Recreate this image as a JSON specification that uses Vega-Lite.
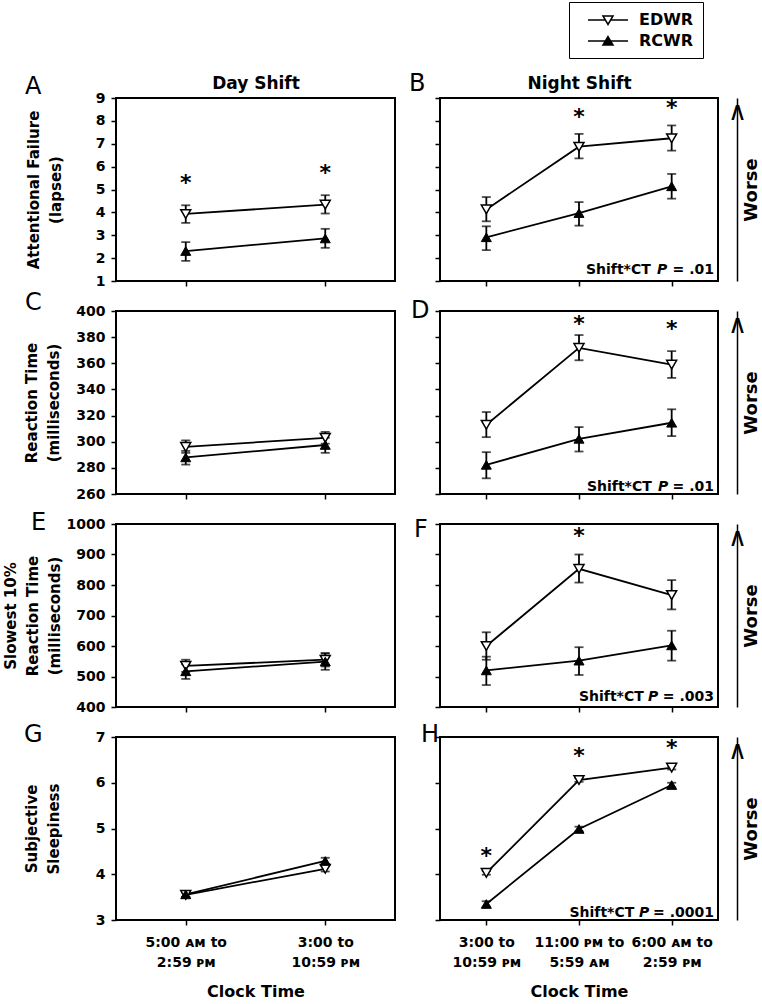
{
  "$schema": "https://vega.github.io/schema/vega-lite/v6.json",
  "background": "white",
  "padding": {"left": 2, "top": 1, "right": 0, "bottom": 0},
  "bounds": "flush",
  "columns": 2,
  "spacing": {"row": 30, "column": 45},
  "resolve": {"scale": {"shape": "shared", "fill": "shared"}, "legend": {"shape": "shared", "fill": "shared"}},
  "config": {
    "font": "DejaVu Sans",
    "view": {"stroke": "black", "strokeWidth": 2},
    "axis": {"grid": false, "domainColor": "black", "tickColor": "black", "tickWidth": 1.5, "tickSize": 5, "labelColor": "black", "titleColor": "black", "labelFont": "DejaVu Sans", "titleFont": "DejaVu Sans", "labelFontWeight": "bold", "titleFontWeight": "bold"},
    "title": {"font": "DejaVu Sans", "fontSize": 24, "fontWeight": "normal", "color": "black", "anchor": "start", "frame": "group", "baseline": "alphabetic"},
    "text": {"color": "black"}
  },
  "datasets": {
    "A": [
      {"ct": "5:00 ᴀᴍ to|2:59 ᴘᴍ", "g": "EDWR", "m": 3.93, "lo": 3.54, "hi": 4.31},
      {"ct": "3:00 to|10:59 ᴘᴍ", "g": "EDWR", "m": 4.34, "lo": 3.95, "hi": 4.75},
      {"ct": "5:00 ᴀᴍ to|2:59 ᴘᴍ", "g": "RCWR", "m": 2.31, "lo": 1.88, "hi": 2.7},
      {"ct": "3:00 to|10:59 ᴘᴍ", "g": "RCWR", "m": 2.86, "lo": 2.45, "hi": 3.28}
    ],
    "Astar": [{"ct": "5:00 ᴀᴍ to|2:59 ᴘᴍ", "s": 5.36}, {"ct": "3:00 to|10:59 ᴘᴍ", "s": 5.8}],
    "B": [
      {"ct": "3:00 to|10:59 ᴘᴍ", "g": "EDWR", "m": 4.13, "lo": 3.61, "hi": 4.67},
      {"ct": "11:00 ᴘᴍ to|5:59 ᴀᴍ", "g": "EDWR", "m": 6.87, "lo": 6.36, "hi": 7.43},
      {"ct": "6:00 ᴀᴍ to|2:59 ᴘᴍ", "g": "EDWR", "m": 7.24, "lo": 6.7, "hi": 7.8},
      {"ct": "3:00 to|10:59 ᴘᴍ", "g": "RCWR", "m": 2.91, "lo": 2.35, "hi": 3.39},
      {"ct": "11:00 ᴘᴍ to|5:59 ᴀᴍ", "g": "RCWR", "m": 3.97, "lo": 3.42, "hi": 4.45},
      {"ct": "6:00 ᴀᴍ to|2:59 ᴘᴍ", "g": "RCWR", "m": 5.14, "lo": 4.6, "hi": 5.68}
    ],
    "Bstar": [{"ct": "11:00 ᴘᴍ to|5:59 ᴀᴍ", "s": 8.27}, {"ct": "6:00 ᴀᴍ to|2:59 ᴘᴍ", "s": 8.63}],
    "C": [
      {"ct": "5:00 ᴀᴍ to|2:59 ᴘᴍ", "g": "EDWR", "m": 296, "lo": 291.5, "hi": 301},
      {"ct": "3:00 to|10:59 ᴘᴍ", "g": "EDWR", "m": 303, "lo": 298.5, "hi": 307.5},
      {"ct": "5:00 ᴀᴍ to|2:59 ᴘᴍ", "g": "RCWR", "m": 288, "lo": 282.5, "hi": 293},
      {"ct": "3:00 to|10:59 ᴘᴍ", "g": "RCWR", "m": 297.5, "lo": 291.5, "hi": 303}
    ],
    "D": [
      {"ct": "3:00 to|10:59 ᴘᴍ", "g": "EDWR", "m": 313, "lo": 303.5, "hi": 322.7},
      {"ct": "11:00 ᴘᴍ to|5:59 ᴀᴍ", "g": "EDWR", "m": 371.8, "lo": 362.3, "hi": 381.6},
      {"ct": "6:00 ᴀᴍ to|2:59 ᴘᴍ", "g": "EDWR", "m": 359, "lo": 348.8, "hi": 369.3},
      {"ct": "3:00 to|10:59 ᴘᴍ", "g": "RCWR", "m": 282.3, "lo": 272, "hi": 292},
      {"ct": "11:00 ᴘᴍ to|5:59 ᴀᴍ", "g": "RCWR", "m": 302.2, "lo": 292.5, "hi": 311.2},
      {"ct": "6:00 ᴀᴍ to|2:59 ᴘᴍ", "g": "RCWR", "m": 314.5, "lo": 304.3, "hi": 324.8}
    ],
    "Dstar": [{"ct": "11:00 ᴘᴍ to|5:59 ᴀᴍ", "s": 391.8}, {"ct": "6:00 ᴀᴍ to|2:59 ᴘᴍ", "s": 388}],
    "E": [
      {"ct": "5:00 ᴀᴍ to|2:59 ᴘᴍ", "g": "EDWR", "m": 535, "lo": 515, "hi": 555},
      {"ct": "3:00 to|10:59 ᴘᴍ", "g": "EDWR", "m": 555, "lo": 533, "hi": 577},
      {"ct": "5:00 ᴀᴍ to|2:59 ᴘᴍ", "g": "RCWR", "m": 517, "lo": 492, "hi": 540},
      {"ct": "3:00 to|10:59 ᴘᴍ", "g": "RCWR", "m": 549, "lo": 522, "hi": 575}
    ],
    "F": [
      {"ct": "3:00 to|10:59 ᴘᴍ", "g": "EDWR", "m": 600, "lo": 555, "hi": 645},
      {"ct": "11:00 ᴘᴍ to|5:59 ᴀᴍ", "g": "EDWR", "m": 853, "lo": 808, "hi": 900},
      {"ct": "6:00 ᴀᴍ to|2:59 ᴘᴍ", "g": "EDWR", "m": 767, "lo": 720, "hi": 816},
      {"ct": "3:00 to|10:59 ᴘᴍ", "g": "RCWR", "m": 520, "lo": 472, "hi": 565},
      {"ct": "11:00 ᴘᴍ to|5:59 ᴀᴍ", "g": "RCWR", "m": 552, "lo": 505, "hi": 596},
      {"ct": "6:00 ᴀᴍ to|2:59 ᴘᴍ", "g": "RCWR", "m": 602, "lo": 552, "hi": 650}
    ],
    "Fstar": [{"ct": "11:00 ᴘᴍ to|5:59 ᴀᴍ", "s": 967}],
    "G": [
      {"ct": "5:00 ᴀᴍ to|2:59 ᴘᴍ", "g": "EDWR", "m": 3.55, "lo": 3.5, "hi": 3.6},
      {"ct": "3:00 to|10:59 ᴘᴍ", "g": "EDWR", "m": 4.12, "lo": 4.06, "hi": 4.18},
      {"ct": "5:00 ᴀᴍ to|2:59 ᴘᴍ", "g": "RCWR", "m": 3.56, "lo": 3.51, "hi": 3.61},
      {"ct": "3:00 to|10:59 ᴘᴍ", "g": "RCWR", "m": 4.29, "lo": 4.22, "hi": 4.36}
    ],
    "H": [
      {"ct": "3:00 to|10:59 ᴘᴍ", "g": "EDWR", "m": 4.03, "lo": 3.99, "hi": 4.07},
      {"ct": "11:00 ᴘᴍ to|5:59 ᴀᴍ", "g": "EDWR", "m": 6.06, "lo": 6.02, "hi": 6.1},
      {"ct": "6:00 ᴀᴍ to|2:59 ᴘᴍ", "g": "EDWR", "m": 6.33, "lo": 6.29, "hi": 6.37},
      {"ct": "3:00 to|10:59 ᴘᴍ", "g": "RCWR", "m": 3.35, "lo": 3.29, "hi": 3.41},
      {"ct": "11:00 ᴘᴍ to|5:59 ᴀᴍ", "g": "RCWR", "m": 4.99, "lo": 4.94, "hi": 5.04},
      {"ct": "6:00 ᴀᴍ to|2:59 ᴘᴍ", "g": "RCWR", "m": 5.95, "lo": 5.9, "hi": 6.0}
    ],
    "Hstar": [{"ct": "3:00 to|10:59 ᴘᴍ", "s": 4.44}, {"ct": "11:00 ᴘᴍ to|5:59 ᴀᴍ", "s": 6.62}, {"ct": "6:00 ᴀᴍ to|2:59 ᴘᴍ", "s": 6.8}]
  },
  "concat": [
    {
      "width": 279, "height": 183,
      "title": {"text": "A", "dx": -91, "offset": -25},
      "data": {"name": "A"},
      "resolve": {"axis": {"x": "independent", "y": "independent"}},
      "layer": [
        {"mark": {"type": "line", "color": "black", "strokeWidth": 1.8},
         "encoding": {
           "x": {"field": "ct", "type": "nominal", "scale": {"type": "point", "domain": ["5:00 ᴀᴍ to|2:59 ᴘᴍ", "3:00 to|10:59 ᴘᴍ"], "padding": 0.5}, "axis": {"title": null, "labels": false, "domain": false, "tickSize": 5}},
           "y": {"field": "m", "type": "quantitative", "scale": {"domain": [1, 9], "nice": false, "zero": false}, "axis": {"title": ["Attentional Failure", "(lapses)"], "values": [1, 2, 3, 4, 5, 6, 7, 8, 9], "format": "d", "domain": false, "labelFontSize": 14, "labelPadding": 6, "titleFontSize": 15, "titleLineHeight": 22, "titleAngle": 270, "titleAlign": "center", "titleBaseline": "bottom", "titleX": -75, "titleY": 91.5}},
           "detail": {"field": "g"},
           "order": {"value": null}
         }},
        {"mark": {"type": "rule", "color": "black", "strokeWidth": 1.8},
         "encoding": {
           "x": {"field": "ct", "type": "nominal", "scale": {"type": "point", "domain": ["5:00 ᴀᴍ to|2:59 ᴘᴍ", "3:00 to|10:59 ᴘᴍ"], "padding": 0.5}, "axis": null},
           "y": {"field": "lo", "type": "quantitative", "scale": {"domain": [1, 9], "nice": false, "zero": false}, "axis": null},
           "y2": {"field": "hi"}
         }},
        {"mark": {"type": "tick", "color": "black", "thickness": 1.8, "size": 9},
         "encoding": {
           "x": {"field": "ct", "type": "nominal", "scale": {"type": "point", "domain": ["5:00 ᴀᴍ to|2:59 ᴘᴍ", "3:00 to|10:59 ᴘᴍ"], "padding": 0.5}, "axis": null},
           "y": {"field": "lo", "type": "quantitative", "scale": {"domain": [1, 9], "nice": false, "zero": false}, "axis": null}
         }},
        {"mark": {"type": "tick", "color": "black", "thickness": 1.8, "size": 9},
         "encoding": {
           "x": {"field": "ct", "type": "nominal", "scale": {"type": "point", "domain": ["5:00 ᴀᴍ to|2:59 ᴘᴍ", "3:00 to|10:59 ᴘᴍ"], "padding": 0.5}, "axis": null},
           "y": {"field": "hi", "type": "quantitative", "scale": {"domain": [1, 9], "nice": false, "zero": false}, "axis": null}
         }},
        {"transform": [{"filter": "datum.g === 'EDWR'"}],
         "mark": {"type": "point", "shape": "triangle-down", "filled": true, "fill": "white", "stroke": "black", "strokeWidth": 1.5, "size": 100, "opacity": 1},
         "encoding": {
           "x": {"field": "ct", "type": "nominal", "scale": {"type": "point", "domain": ["5:00 ᴀᴍ to|2:59 ᴘᴍ", "3:00 to|10:59 ᴘᴍ"], "padding": 0.5}, "axis": null},
           "y": {"field": "m", "type": "quantitative", "scale": {"domain": [1, 9], "nice": false, "zero": false}, "axis": null}
         }},
        {"transform": [{"filter": "datum.g === 'RCWR'"}],
         "mark": {"type": "point", "shape": "triangle-up", "filled": true, "fill": "black", "stroke": "black", "strokeWidth": 1, "size": 100, "opacity": 1},
         "encoding": {
           "x": {"field": "ct", "type": "nominal", "scale": {"type": "point", "domain": ["5:00 ᴀᴍ to|2:59 ᴘᴍ", "3:00 to|10:59 ᴘᴍ"], "padding": 0.5}, "axis": null},
           "y": {"field": "m", "type": "quantitative", "scale": {"domain": [1, 9], "nice": false, "zero": false}, "axis": null}
         }},
        {"data": {"name": "Astar"},
         "mark": {"type": "text", "text": "*", "fontSize": 22, "fontWeight": "bold", "baseline": "middle", "dy": 2, "color": "black"},
         "encoding": {
           "x": {"field": "ct", "type": "nominal", "scale": {"type": "point", "domain": ["5:00 ᴀᴍ to|2:59 ᴘᴍ", "3:00 to|10:59 ᴘᴍ"], "padding": 0.5}, "axis": {"orient": "top", "title": "Day Shift", "labels": false, "ticks": false, "domain": false, "titlePadding": 10, "titleFontSize": 17, "titleBaseline": "alphabetic"}},
           "y": {"field": "s", "type": "quantitative", "scale": {"domain": [1, 9], "nice": false, "zero": false}, "axis": null}
         }}
      ]
    },
    {
      "width": 278, "height": 183,
      "title": {"text": "B", "dx": -31, "offset": -22},
      "data": {"name": "B"},
      "resolve": {"axis": {"x": "independent", "y": "independent"}},
      "layer": [
        {"mark": {"type": "line", "color": "black", "strokeWidth": 1.8},
         "encoding": {
           "x": {"field": "ct", "type": "nominal", "scale": {"type": "point", "domain": ["3:00 to|10:59 ᴘᴍ", "11:00 ᴘᴍ to|5:59 ᴀᴍ", "6:00 ᴀᴍ to|2:59 ᴘᴍ"], "padding": 0.5}, "axis": {"title": null, "labels": false, "domain": false, "tickSize": 5}},
           "y": {"field": "m", "type": "quantitative", "scale": {"domain": [1, 9], "nice": false, "zero": false}, "axis": {"title": null, "labels": false, "values": [1, 2, 3, 4, 5, 6, 7, 8, 9], "domain": false}},
           "detail": {"field": "g"},
           "order": {"value": null}
         }},
        {"mark": {"type": "rule", "color": "black", "strokeWidth": 1.8},
         "encoding": {
           "x": {"field": "ct", "type": "nominal", "scale": {"type": "point", "domain": ["3:00 to|10:59 ᴘᴍ", "11:00 ᴘᴍ to|5:59 ᴀᴍ", "6:00 ᴀᴍ to|2:59 ᴘᴍ"], "padding": 0.5}, "axis": null},
           "y": {"field": "lo", "type": "quantitative", "scale": {"domain": [1, 9], "nice": false, "zero": false}, "axis": null},
           "y2": {"field": "hi"}
         }},
        {"mark": {"type": "tick", "color": "black", "thickness": 1.8, "size": 9},
         "encoding": {
           "x": {"field": "ct", "type": "nominal", "scale": {"type": "point", "domain": ["3:00 to|10:59 ᴘᴍ", "11:00 ᴘᴍ to|5:59 ᴀᴍ", "6:00 ᴀᴍ to|2:59 ᴘᴍ"], "padding": 0.5}, "axis": null},
           "y": {"field": "lo", "type": "quantitative", "scale": {"domain": [1, 9], "nice": false, "zero": false}, "axis": null}
         }},
        {"mark": {"type": "tick", "color": "black", "thickness": 1.8, "size": 9},
         "encoding": {
           "x": {"field": "ct", "type": "nominal", "scale": {"type": "point", "domain": ["3:00 to|10:59 ᴘᴍ", "11:00 ᴘᴍ to|5:59 ᴀᴍ", "6:00 ᴀᴍ to|2:59 ᴘᴍ"], "padding": 0.5}, "axis": null},
           "y": {"field": "hi", "type": "quantitative", "scale": {"domain": [1, 9], "nice": false, "zero": false}, "axis": {"orient": "right", "offset": 19, "domain": true, "domainWidth": 1.5, "ticks": false, "tickSize": 0, "values": [9], "labelExpr": "'∧'", "labelFont": "DejaVu Sans", "labelFontWeight": "normal", "labelFontSize": 26, "labelAlign": "center", "labelBaseline": "top", "labelPadding": 0, "labelBound": false, "labelFlush": false, "labelOverlap": false, "title": "Worse", "titleAngle": 270, "titleAlign": "center", "titleBaseline": "middle", "titleX": 14, "titleY": 91.5, "titleFontSize": 18}}
         }},
        {"transform": [{"filter": "datum.g === 'EDWR'"}],
         "mark": {"type": "point", "shape": "triangle-down", "filled": true, "fill": "white", "stroke": "black", "strokeWidth": 1.5, "size": 100, "opacity": 1},
         "encoding": {
           "x": {"field": "ct", "type": "nominal", "scale": {"type": "point", "domain": ["3:00 to|10:59 ᴘᴍ", "11:00 ᴘᴍ to|5:59 ᴀᴍ", "6:00 ᴀᴍ to|2:59 ᴘᴍ"], "padding": 0.5}, "axis": null},
           "y": {"field": "m", "type": "quantitative", "scale": {"domain": [1, 9], "nice": false, "zero": false}, "axis": null}
         }},
        {"transform": [{"filter": "datum.g === 'RCWR'"}],
         "mark": {"type": "point", "shape": "triangle-up", "filled": true, "fill": "black", "stroke": "black", "strokeWidth": 1, "size": 100, "opacity": 1},
         "encoding": {
           "x": {"field": "ct", "type": "nominal", "scale": {"type": "point", "domain": ["3:00 to|10:59 ᴘᴍ", "11:00 ᴘᴍ to|5:59 ᴀᴍ", "6:00 ᴀᴍ to|2:59 ᴘᴍ"], "padding": 0.5}, "axis": null},
           "y": {"field": "m", "type": "quantitative", "scale": {"domain": [1, 9], "nice": false, "zero": false}, "axis": null}
         }},
        {"mark": {"type": "point", "filled": true, "opacity": 0, "stroke": "black", "strokeWidth": 1.5},
         "encoding": {
           "x": {"field": "ct", "type": "nominal", "scale": {"type": "point", "domain": ["3:00 to|10:59 ᴘᴍ", "11:00 ᴘᴍ to|5:59 ᴀᴍ", "6:00 ᴀᴍ to|2:59 ᴘᴍ"], "padding": 0.5}, "axis": null},
           "y": {"field": "m", "type": "quantitative", "scale": {"domain": [1, 9], "nice": false, "zero": false}, "axis": null},
           "shape": {"field": "g", "type": "nominal", "scale": {"domain": ["EDWR", "RCWR"], "range": ["M0.125,0H2.295M2.955,0H5.125M2,-0.5L3.25,-0.5L2.625,0.56Z", "M0.125,0H5.125M2.625,-0.56L3.25,0.5L2,0.5Z"]},
             "legend": {"title": null, "orient": "none", "legendX": 453, "legendY": -96, "padding": 9, "rowPadding": 4, "symbolSize": 256, "symbolStrokeColor": "black", "symbolStrokeWidth": 1.5, "symbolOpacity": 1, "labelFontSize": 16, "labelFontWeight": "bold", "labelFont": "DejaVu Sans", "labelColor": "black", "labelOffset": 43, "strokeColor": "black",
               "encode": {"symbols": {"update": {"stroke": {"value": "black"}, "strokeWidth": {"value": 1.5}, "opacity": {"value": 1}}}}}},
           "fill": {"field": "g", "type": "nominal", "scale": {"domain": ["EDWR", "RCWR"], "range": ["white", "black"]},
             "legend": {"title": null, "orient": "none", "legendX": 453, "legendY": -96, "padding": 9, "rowPadding": 4, "symbolSize": 256, "symbolStrokeColor": "black", "symbolStrokeWidth": 1.5, "symbolOpacity": 1, "labelFontSize": 16, "labelFontWeight": "bold", "labelFont": "DejaVu Sans", "labelColor": "black", "labelOffset": 43, "strokeColor": "black",
               "encode": {"symbols": {"update": {"stroke": {"value": "black"}, "strokeWidth": {"value": 1.5}, "opacity": {"value": 1}}}}}}
         }},
        {"data": {"name": "Bstar"},
         "mark": {"type": "text", "text": "*", "fontSize": 22, "fontWeight": "bold", "baseline": "middle", "dy": 2, "color": "black"},
         "encoding": {
           "x": {"field": "ct", "type": "nominal", "scale": {"type": "point", "domain": ["3:00 to|10:59 ᴘᴍ", "11:00 ᴘᴍ to|5:59 ᴀᴍ", "6:00 ᴀᴍ to|2:59 ᴘᴍ"], "padding": 0.5}, "axis": {"orient": "top", "title": "Night Shift", "labels": false, "ticks": false, "domain": false, "titlePadding": 10, "titleFontSize": 17, "titleBaseline": "alphabetic"}},
           "y": {"field": "s", "type": "quantitative", "scale": {"domain": [1, 9], "nice": false, "zero": false}, "axis": null}
         }},
        {"data": {"values": [{}]},
         "mark": {"type": "text", "text": "Shift*CT", "fontSize": 14, "fontWeight": "bold", "align": "left", "baseline": "alphabetic", "dx": -85.7, "dy": -7},
         "encoding": {
           "x": {"datum": "6:00 ᴀᴍ to|2:59 ᴘᴍ", "type": "nominal", "scale": {"type": "point", "domain": ["3:00 to|10:59 ᴘᴍ", "11:00 ᴘᴍ to|5:59 ᴀᴍ", "6:00 ᴀᴍ to|2:59 ᴘᴍ"], "padding": 0.5}, "axis": null},
           "y": {"datum": 1, "type": "quantitative", "scale": {"domain": [1, 9], "nice": false, "zero": false}, "axis": null}
         }},
        {"data": {"values": [{}]},
         "mark": {"type": "text", "text": "P", "fontSize": 14, "fontWeight": "bold", "fontStyle": "italic", "align": "left", "baseline": "alphabetic", "dx": -14.7, "dy": -7},
         "encoding": {
           "x": {"datum": "6:00 ᴀᴍ to|2:59 ᴘᴍ", "type": "nominal", "scale": {"type": "point", "domain": ["3:00 to|10:59 ᴘᴍ", "11:00 ᴘᴍ to|5:59 ᴀᴍ", "6:00 ᴀᴍ to|2:59 ᴘᴍ"], "padding": 0.5}, "axis": null},
           "y": {"datum": 1, "type": "quantitative", "scale": {"domain": [1, 9], "nice": false, "zero": false}, "axis": null}
         }},
        {"data": {"values": [{}]},
         "mark": {"type": "text", "text": "= .01", "fontSize": 14, "fontWeight": "bold", "align": "right", "baseline": "alphabetic", "dx": 42.3, "dy": -7},
         "encoding": {
           "x": {"datum": "6:00 ᴀᴍ to|2:59 ᴘᴍ", "type": "nominal", "scale": {"type": "point", "domain": ["3:00 to|10:59 ᴘᴍ", "11:00 ᴘᴍ to|5:59 ᴀᴍ", "6:00 ᴀᴍ to|2:59 ᴘᴍ"], "padding": 0.5}, "axis": null},
           "y": {"datum": 1, "type": "quantitative", "scale": {"domain": [1, 9], "nice": false, "zero": false}, "axis": null}
         }}
      ]
    },
    {
      "width": 279, "height": 183,
      "title": {"text": "C", "dx": -91, "offset": -11},
      "data": {"name": "C"},
      "resolve": {"axis": {"x": "independent", "y": "independent"}},
      "layer": [
        {"mark": {"type": "line", "color": "black", "strokeWidth": 1.8},
         "encoding": {
           "x": {"field": "ct", "type": "nominal", "scale": {"type": "point", "domain": ["5:00 ᴀᴍ to|2:59 ᴘᴍ", "3:00 to|10:59 ᴘᴍ"], "padding": 0.5}, "axis": {"title": null, "labels": false, "domain": false, "tickSize": 5}},
           "y": {"field": "m", "type": "quantitative", "scale": {"domain": [260, 400], "nice": false, "zero": false}, "axis": {"title": ["Reaction Time", "(milliseconds)"], "values": [260, 280, 300, 320, 340, 360, 380, 400], "format": "d", "domain": false, "labelFontSize": 14, "labelPadding": 6, "titleFontSize": 15, "titleLineHeight": 22, "titleAngle": 270, "titleAlign": "center", "titleBaseline": "bottom", "titleX": -77, "titleY": 91.5}},
           "detail": {"field": "g"},
           "order": {"value": null}
         }},
        {"mark": {"type": "rule", "color": "black", "strokeWidth": 1.8},
         "encoding": {
           "x": {"field": "ct", "type": "nominal", "scale": {"type": "point", "domain": ["5:00 ᴀᴍ to|2:59 ᴘᴍ", "3:00 to|10:59 ᴘᴍ"], "padding": 0.5}, "axis": null},
           "y": {"field": "lo", "type": "quantitative", "scale": {"domain": [260, 400], "nice": false, "zero": false}, "axis": null},
           "y2": {"field": "hi"}
         }},
        {"mark": {"type": "tick", "color": "black", "thickness": 1.8, "size": 9},
         "encoding": {
           "x": {"field": "ct", "type": "nominal", "scale": {"type": "point", "domain": ["5:00 ᴀᴍ to|2:59 ᴘᴍ", "3:00 to|10:59 ᴘᴍ"], "padding": 0.5}, "axis": null},
           "y": {"field": "lo", "type": "quantitative", "scale": {"domain": [260, 400], "nice": false, "zero": false}, "axis": null}
         }},
        {"mark": {"type": "tick", "color": "black", "thickness": 1.8, "size": 9},
         "encoding": {
           "x": {"field": "ct", "type": "nominal", "scale": {"type": "point", "domain": ["5:00 ᴀᴍ to|2:59 ᴘᴍ", "3:00 to|10:59 ᴘᴍ"], "padding": 0.5}, "axis": null},
           "y": {"field": "hi", "type": "quantitative", "scale": {"domain": [260, 400], "nice": false, "zero": false}, "axis": null}
         }},
        {"transform": [{"filter": "datum.g === 'EDWR'"}],
         "mark": {"type": "point", "shape": "triangle-down", "filled": true, "fill": "white", "stroke": "black", "strokeWidth": 1.5, "size": 100, "opacity": 1},
         "encoding": {
           "x": {"field": "ct", "type": "nominal", "scale": {"type": "point", "domain": ["5:00 ᴀᴍ to|2:59 ᴘᴍ", "3:00 to|10:59 ᴘᴍ"], "padding": 0.5}, "axis": null},
           "y": {"field": "m", "type": "quantitative", "scale": {"domain": [260, 400], "nice": false, "zero": false}, "axis": null}
         }},
        {"transform": [{"filter": "datum.g === 'RCWR'"}],
         "mark": {"type": "point", "shape": "triangle-up", "filled": true, "fill": "black", "stroke": "black", "strokeWidth": 1, "size": 100, "opacity": 1},
         "encoding": {
           "x": {"field": "ct", "type": "nominal", "scale": {"type": "point", "domain": ["5:00 ᴀᴍ to|2:59 ᴘᴍ", "3:00 to|10:59 ᴘᴍ"], "padding": 0.5}, "axis": null},
           "y": {"field": "m", "type": "quantitative", "scale": {"domain": [260, 400], "nice": false, "zero": false}, "axis": null}
         }}
      ]
    },
    {
      "width": 278, "height": 183,
      "title": {"text": "D", "dx": -29, "offset": -13},
      "data": {"name": "D"},
      "resolve": {"axis": {"x": "independent", "y": "independent"}},
      "layer": [
        {"mark": {"type": "line", "color": "black", "strokeWidth": 1.8},
         "encoding": {
           "x": {"field": "ct", "type": "nominal", "scale": {"type": "point", "domain": ["3:00 to|10:59 ᴘᴍ", "11:00 ᴘᴍ to|5:59 ᴀᴍ", "6:00 ᴀᴍ to|2:59 ᴘᴍ"], "padding": 0.5}, "axis": {"title": null, "labels": false, "domain": false, "tickSize": 5}},
           "y": {"field": "m", "type": "quantitative", "scale": {"domain": [260, 400], "nice": false, "zero": false}, "axis": {"title": null, "labels": false, "values": [260, 280, 300, 320, 340, 360, 380, 400], "domain": false}},
           "detail": {"field": "g"},
           "order": {"value": null}
         }},
        {"mark": {"type": "rule", "color": "black", "strokeWidth": 1.8},
         "encoding": {
           "x": {"field": "ct", "type": "nominal", "scale": {"type": "point", "domain": ["3:00 to|10:59 ᴘᴍ", "11:00 ᴘᴍ to|5:59 ᴀᴍ", "6:00 ᴀᴍ to|2:59 ᴘᴍ"], "padding": 0.5}, "axis": null},
           "y": {"field": "lo", "type": "quantitative", "scale": {"domain": [260, 400], "nice": false, "zero": false}, "axis": null},
           "y2": {"field": "hi"}
         }},
        {"mark": {"type": "tick", "color": "black", "thickness": 1.8, "size": 9},
         "encoding": {
           "x": {"field": "ct", "type": "nominal", "scale": {"type": "point", "domain": ["3:00 to|10:59 ᴘᴍ", "11:00 ᴘᴍ to|5:59 ᴀᴍ", "6:00 ᴀᴍ to|2:59 ᴘᴍ"], "padding": 0.5}, "axis": null},
           "y": {"field": "lo", "type": "quantitative", "scale": {"domain": [260, 400], "nice": false, "zero": false}, "axis": null}
         }},
        {"mark": {"type": "tick", "color": "black", "thickness": 1.8, "size": 9},
         "encoding": {
           "x": {"field": "ct", "type": "nominal", "scale": {"type": "point", "domain": ["3:00 to|10:59 ᴘᴍ", "11:00 ᴘᴍ to|5:59 ᴀᴍ", "6:00 ᴀᴍ to|2:59 ᴘᴍ"], "padding": 0.5}, "axis": null},
           "y": {"field": "hi", "type": "quantitative", "scale": {"domain": [260, 400], "nice": false, "zero": false}, "axis": {"orient": "right", "offset": 19, "domain": true, "domainWidth": 1.5, "ticks": false, "tickSize": 0, "values": [400], "labelExpr": "'∧'", "labelFont": "DejaVu Sans", "labelFontWeight": "normal", "labelFontSize": 26, "labelAlign": "center", "labelBaseline": "top", "labelPadding": 0, "labelBound": false, "labelFlush": false, "labelOverlap": false, "title": "Worse", "titleAngle": 270, "titleAlign": "center", "titleBaseline": "middle", "titleX": 14, "titleY": 91.5, "titleFontSize": 18}}
         }},
        {"transform": [{"filter": "datum.g === 'EDWR'"}],
         "mark": {"type": "point", "shape": "triangle-down", "filled": true, "fill": "white", "stroke": "black", "strokeWidth": 1.5, "size": 100, "opacity": 1},
         "encoding": {
           "x": {"field": "ct", "type": "nominal", "scale": {"type": "point", "domain": ["3:00 to|10:59 ᴘᴍ", "11:00 ᴘᴍ to|5:59 ᴀᴍ", "6:00 ᴀᴍ to|2:59 ᴘᴍ"], "padding": 0.5}, "axis": null},
           "y": {"field": "m", "type": "quantitative", "scale": {"domain": [260, 400], "nice": false, "zero": false}, "axis": null}
         }},
        {"transform": [{"filter": "datum.g === 'RCWR'"}],
         "mark": {"type": "point", "shape": "triangle-up", "filled": true, "fill": "black", "stroke": "black", "strokeWidth": 1, "size": 100, "opacity": 1},
         "encoding": {
           "x": {"field": "ct", "type": "nominal", "scale": {"type": "point", "domain": ["3:00 to|10:59 ᴘᴍ", "11:00 ᴘᴍ to|5:59 ᴀᴍ", "6:00 ᴀᴍ to|2:59 ᴘᴍ"], "padding": 0.5}, "axis": null},
           "y": {"field": "m", "type": "quantitative", "scale": {"domain": [260, 400], "nice": false, "zero": false}, "axis": null}
         }},
        {"data": {"name": "Dstar"},
         "mark": {"type": "text", "text": "*", "fontSize": 22, "fontWeight": "bold", "baseline": "middle", "dy": 2, "color": "black"},
         "encoding": {
           "x": {"field": "ct", "type": "nominal", "scale": {"type": "point", "domain": ["3:00 to|10:59 ᴘᴍ", "11:00 ᴘᴍ to|5:59 ᴀᴍ", "6:00 ᴀᴍ to|2:59 ᴘᴍ"], "padding": 0.5}, "axis": null},
           "y": {"field": "s", "type": "quantitative", "scale": {"domain": [260, 400], "nice": false, "zero": false}, "axis": null}
         }},
        {"data": {"values": [{}]},
         "mark": {"type": "text", "text": "Shift*CT", "fontSize": 14, "fontWeight": "bold", "align": "left", "baseline": "alphabetic", "dx": -84.7, "dy": -3.5},
         "encoding": {
           "x": {"datum": "6:00 ᴀᴍ to|2:59 ᴘᴍ", "type": "nominal", "scale": {"type": "point", "domain": ["3:00 to|10:59 ᴘᴍ", "11:00 ᴘᴍ to|5:59 ᴀᴍ", "6:00 ᴀᴍ to|2:59 ᴘᴍ"], "padding": 0.5}, "axis": null},
           "y": {"datum": 260, "type": "quantitative", "scale": {"domain": [260, 400], "nice": false, "zero": false}, "axis": null}
         }},
        {"data": {"values": [{}]},
         "mark": {"type": "text", "text": "P", "fontSize": 14, "fontWeight": "bold", "fontStyle": "italic", "align": "left", "baseline": "alphabetic", "dx": -13.7, "dy": -3.5},
         "encoding": {
           "x": {"datum": "6:00 ᴀᴍ to|2:59 ᴘᴍ", "type": "nominal", "scale": {"type": "point", "domain": ["3:00 to|10:59 ᴘᴍ", "11:00 ᴘᴍ to|5:59 ᴀᴍ", "6:00 ᴀᴍ to|2:59 ᴘᴍ"], "padding": 0.5}, "axis": null},
           "y": {"datum": 260, "type": "quantitative", "scale": {"domain": [260, 400], "nice": false, "zero": false}, "axis": null}
         }},
        {"data": {"values": [{}]},
         "mark": {"type": "text", "text": "= .01", "fontSize": 14, "fontWeight": "bold", "align": "right", "baseline": "alphabetic", "dx": 42.3, "dy": -3.5},
         "encoding": {
           "x": {"datum": "6:00 ᴀᴍ to|2:59 ᴘᴍ", "type": "nominal", "scale": {"type": "point", "domain": ["3:00 to|10:59 ᴘᴍ", "11:00 ᴘᴍ to|5:59 ᴀᴍ", "6:00 ᴀᴍ to|2:59 ᴘᴍ"], "padding": 0.5}, "axis": null},
           "y": {"datum": 260, "type": "quantitative", "scale": {"domain": [260, 400], "nice": false, "zero": false}, "axis": null}
         }}
      ]
    },
    {
      "width": 279, "height": 183,
      "title": {"text": "E", "dx": -85, "offset": -18},
      "data": {"name": "E"},
      "resolve": {"axis": {"x": "independent", "y": "independent"}},
      "layer": [
        {"mark": {"type": "line", "color": "black", "strokeWidth": 1.8},
         "encoding": {
           "x": {"field": "ct", "type": "nominal", "scale": {"type": "point", "domain": ["5:00 ᴀᴍ to|2:59 ᴘᴍ", "3:00 to|10:59 ᴘᴍ"], "padding": 0.5}, "axis": {"title": null, "labels": false, "domain": false, "tickSize": 5}},
           "y": {"field": "m", "type": "quantitative", "scale": {"domain": [400, 1000], "nice": false, "zero": false}, "axis": {"title": ["Slowest 10%", "Reaction Time", "(milliseconds)"], "values": [400, 500, 600, 700, 800, 900, 1000], "format": "d", "domain": false, "labelFontSize": 14, "labelPadding": 6, "titleFontSize": 15, "titleLineHeight": 22, "titleAngle": 270, "titleAlign": "center", "titleBaseline": "bottom", "titleX": -98, "titleY": 91.5}},
           "detail": {"field": "g"},
           "order": {"value": null}
         }},
        {"mark": {"type": "rule", "color": "black", "strokeWidth": 1.8},
         "encoding": {
           "x": {"field": "ct", "type": "nominal", "scale": {"type": "point", "domain": ["5:00 ᴀᴍ to|2:59 ᴘᴍ", "3:00 to|10:59 ᴘᴍ"], "padding": 0.5}, "axis": null},
           "y": {"field": "lo", "type": "quantitative", "scale": {"domain": [400, 1000], "nice": false, "zero": false}, "axis": null},
           "y2": {"field": "hi"}
         }},
        {"mark": {"type": "tick", "color": "black", "thickness": 1.8, "size": 9},
         "encoding": {
           "x": {"field": "ct", "type": "nominal", "scale": {"type": "point", "domain": ["5:00 ᴀᴍ to|2:59 ᴘᴍ", "3:00 to|10:59 ᴘᴍ"], "padding": 0.5}, "axis": null},
           "y": {"field": "lo", "type": "quantitative", "scale": {"domain": [400, 1000], "nice": false, "zero": false}, "axis": null}
         }},
        {"mark": {"type": "tick", "color": "black", "thickness": 1.8, "size": 9},
         "encoding": {
           "x": {"field": "ct", "type": "nominal", "scale": {"type": "point", "domain": ["5:00 ᴀᴍ to|2:59 ᴘᴍ", "3:00 to|10:59 ᴘᴍ"], "padding": 0.5}, "axis": null},
           "y": {"field": "hi", "type": "quantitative", "scale": {"domain": [400, 1000], "nice": false, "zero": false}, "axis": null}
         }},
        {"transform": [{"filter": "datum.g === 'EDWR'"}],
         "mark": {"type": "point", "shape": "triangle-down", "filled": true, "fill": "white", "stroke": "black", "strokeWidth": 1.5, "size": 100, "opacity": 1},
         "encoding": {
           "x": {"field": "ct", "type": "nominal", "scale": {"type": "point", "domain": ["5:00 ᴀᴍ to|2:59 ᴘᴍ", "3:00 to|10:59 ᴘᴍ"], "padding": 0.5}, "axis": null},
           "y": {"field": "m", "type": "quantitative", "scale": {"domain": [400, 1000], "nice": false, "zero": false}, "axis": null}
         }},
        {"transform": [{"filter": "datum.g === 'RCWR'"}],
         "mark": {"type": "point", "shape": "triangle-up", "filled": true, "fill": "black", "stroke": "black", "strokeWidth": 1, "size": 100, "opacity": 1},
         "encoding": {
           "x": {"field": "ct", "type": "nominal", "scale": {"type": "point", "domain": ["5:00 ᴀᴍ to|2:59 ᴘᴍ", "3:00 to|10:59 ᴘᴍ"], "padding": 0.5}, "axis": null},
           "y": {"field": "m", "type": "quantitative", "scale": {"domain": [400, 1000], "nice": false, "zero": false}, "axis": null}
         }}
      ]
    },
    {
      "width": 278, "height": 183,
      "title": {"text": "F", "dx": -26, "offset": -19},
      "data": {"name": "F"},
      "resolve": {"axis": {"x": "independent", "y": "independent"}},
      "layer": [
        {"mark": {"type": "line", "color": "black", "strokeWidth": 1.8},
         "encoding": {
           "x": {"field": "ct", "type": "nominal", "scale": {"type": "point", "domain": ["3:00 to|10:59 ᴘᴍ", "11:00 ᴘᴍ to|5:59 ᴀᴍ", "6:00 ᴀᴍ to|2:59 ᴘᴍ"], "padding": 0.5}, "axis": {"title": null, "labels": false, "domain": false, "tickSize": 5}},
           "y": {"field": "m", "type": "quantitative", "scale": {"domain": [400, 1000], "nice": false, "zero": false}, "axis": {"title": null, "labels": false, "values": [400, 500, 600, 700, 800, 900, 1000], "domain": false}},
           "detail": {"field": "g"},
           "order": {"value": null}
         }},
        {"mark": {"type": "rule", "color": "black", "strokeWidth": 1.8},
         "encoding": {
           "x": {"field": "ct", "type": "nominal", "scale": {"type": "point", "domain": ["3:00 to|10:59 ᴘᴍ", "11:00 ᴘᴍ to|5:59 ᴀᴍ", "6:00 ᴀᴍ to|2:59 ᴘᴍ"], "padding": 0.5}, "axis": null},
           "y": {"field": "lo", "type": "quantitative", "scale": {"domain": [400, 1000], "nice": false, "zero": false}, "axis": null},
           "y2": {"field": "hi"}
         }},
        {"mark": {"type": "tick", "color": "black", "thickness": 1.8, "size": 9},
         "encoding": {
           "x": {"field": "ct", "type": "nominal", "scale": {"type": "point", "domain": ["3:00 to|10:59 ᴘᴍ", "11:00 ᴘᴍ to|5:59 ᴀᴍ", "6:00 ᴀᴍ to|2:59 ᴘᴍ"], "padding": 0.5}, "axis": null},
           "y": {"field": "lo", "type": "quantitative", "scale": {"domain": [400, 1000], "nice": false, "zero": false}, "axis": null}
         }},
        {"mark": {"type": "tick", "color": "black", "thickness": 1.8, "size": 9},
         "encoding": {
           "x": {"field": "ct", "type": "nominal", "scale": {"type": "point", "domain": ["3:00 to|10:59 ᴘᴍ", "11:00 ᴘᴍ to|5:59 ᴀᴍ", "6:00 ᴀᴍ to|2:59 ᴘᴍ"], "padding": 0.5}, "axis": null},
           "y": {"field": "hi", "type": "quantitative", "scale": {"domain": [400, 1000], "nice": false, "zero": false}, "axis": {"orient": "right", "offset": 19, "domain": true, "domainWidth": 1.5, "ticks": false, "tickSize": 0, "values": [1000], "labelExpr": "'∧'", "labelFont": "DejaVu Sans", "labelFontWeight": "normal", "labelFontSize": 26, "labelAlign": "center", "labelBaseline": "top", "labelPadding": 0, "labelBound": false, "labelFlush": false, "labelOverlap": false, "title": "Worse", "titleAngle": 270, "titleAlign": "center", "titleBaseline": "middle", "titleX": 14, "titleY": 91.5, "titleFontSize": 18}}
         }},
        {"transform": [{"filter": "datum.g === 'EDWR'"}],
         "mark": {"type": "point", "shape": "triangle-down", "filled": true, "fill": "white", "stroke": "black", "strokeWidth": 1.5, "size": 100, "opacity": 1},
         "encoding": {
           "x": {"field": "ct", "type": "nominal", "scale": {"type": "point", "domain": ["3:00 to|10:59 ᴘᴍ", "11:00 ᴘᴍ to|5:59 ᴀᴍ", "6:00 ᴀᴍ to|2:59 ᴘᴍ"], "padding": 0.5}, "axis": null},
           "y": {"field": "m", "type": "quantitative", "scale": {"domain": [400, 1000], "nice": false, "zero": false}, "axis": null}
         }},
        {"transform": [{"filter": "datum.g === 'RCWR'"}],
         "mark": {"type": "point", "shape": "triangle-up", "filled": true, "fill": "black", "stroke": "black", "strokeWidth": 1, "size": 100, "opacity": 1},
         "encoding": {
           "x": {"field": "ct", "type": "nominal", "scale": {"type": "point", "domain": ["3:00 to|10:59 ᴘᴍ", "11:00 ᴘᴍ to|5:59 ᴀᴍ", "6:00 ᴀᴍ to|2:59 ᴘᴍ"], "padding": 0.5}, "axis": null},
           "y": {"field": "m", "type": "quantitative", "scale": {"domain": [400, 1000], "nice": false, "zero": false}, "axis": null}
         }},
        {"data": {"name": "Fstar"},
         "mark": {"type": "text", "text": "*", "fontSize": 22, "fontWeight": "bold", "baseline": "middle", "dy": 2, "color": "black"},
         "encoding": {
           "x": {"field": "ct", "type": "nominal", "scale": {"type": "point", "domain": ["3:00 to|10:59 ᴘᴍ", "11:00 ᴘᴍ to|5:59 ᴀᴍ", "6:00 ᴀᴍ to|2:59 ᴘᴍ"], "padding": 0.5}, "axis": null},
           "y": {"field": "s", "type": "quantitative", "scale": {"domain": [400, 1000], "nice": false, "zero": false}, "axis": null}
         }},
        {"data": {"values": [{}]},
         "mark": {"type": "text", "text": "Shift*CT", "fontSize": 14, "fontWeight": "bold", "align": "left", "baseline": "alphabetic", "dx": -92.7, "dy": -6},
         "encoding": {
           "x": {"datum": "6:00 ᴀᴍ to|2:59 ᴘᴍ", "type": "nominal", "scale": {"type": "point", "domain": ["3:00 to|10:59 ᴘᴍ", "11:00 ᴘᴍ to|5:59 ᴀᴍ", "6:00 ᴀᴍ to|2:59 ᴘᴍ"], "padding": 0.5}, "axis": null},
           "y": {"datum": 400, "type": "quantitative", "scale": {"domain": [400, 1000], "nice": false, "zero": false}, "axis": null}
         }},
        {"data": {"values": [{}]},
         "mark": {"type": "text", "text": "P", "fontSize": 14, "fontWeight": "bold", "fontStyle": "italic", "align": "left", "baseline": "alphabetic", "dx": -23.7, "dy": -6},
         "encoding": {
           "x": {"datum": "6:00 ᴀᴍ to|2:59 ᴘᴍ", "type": "nominal", "scale": {"type": "point", "domain": ["3:00 to|10:59 ᴘᴍ", "11:00 ᴘᴍ to|5:59 ᴀᴍ", "6:00 ᴀᴍ to|2:59 ᴘᴍ"], "padding": 0.5}, "axis": null},
           "y": {"datum": 400, "type": "quantitative", "scale": {"domain": [400, 1000], "nice": false, "zero": false}, "axis": null}
         }},
        {"data": {"values": [{}]},
         "mark": {"type": "text", "text": "= .003", "fontSize": 14, "fontWeight": "bold", "align": "right", "baseline": "alphabetic", "dx": 42.3, "dy": -6},
         "encoding": {
           "x": {"datum": "6:00 ᴀᴍ to|2:59 ᴘᴍ", "type": "nominal", "scale": {"type": "point", "domain": ["3:00 to|10:59 ᴘᴍ", "11:00 ᴘᴍ to|5:59 ᴀᴍ", "6:00 ᴀᴍ to|2:59 ᴘᴍ"], "padding": 0.5}, "axis": null},
           "y": {"datum": 400, "type": "quantitative", "scale": {"domain": [400, 1000], "nice": false, "zero": false}, "axis": null}
         }}
      ]
    },
    {
      "width": 279, "height": 183,
      "title": {"text": "G", "dx": -92, "offset": -17},
      "data": {"name": "G"},
      "resolve": {"axis": {"x": "independent", "y": "independent"}},
      "layer": [
        {"mark": {"type": "line", "color": "black", "strokeWidth": 1.8},
         "encoding": {
           "x": {"field": "ct", "type": "nominal", "scale": {"type": "point", "domain": ["5:00 ᴀᴍ to|2:59 ᴘᴍ", "3:00 to|10:59 ᴘᴍ"], "padding": 0.5}, "axis": {"title": "Clock Time", "domain": false, "tickSize": 5, "labelExpr": "split(datum.label, '|')", "labelFontSize": 14, "labelLineHeight": 20, "labelPadding": 10, "labelAngle": 0, "labelOverlap": false, "labelBaseline": "top", "titleFontSize": 16, "titlePadding": 14}},
           "y": {"field": "m", "type": "quantitative", "scale": {"domain": [3, 7], "nice": false, "zero": false}, "axis": {"title": ["Subjective", "Sleepiness"], "values": [3, 4, 5, 6, 7], "format": "d", "domain": false, "labelFontSize": 14, "labelPadding": 6, "titleFontSize": 15, "titleLineHeight": 22, "titleAngle": 270, "titleAlign": "center", "titleBaseline": "bottom", "titleX": -77, "titleY": 91.5}},
           "detail": {"field": "g"},
           "order": {"value": null}
         }},
        {"mark": {"type": "rule", "color": "black", "strokeWidth": 1.8},
         "encoding": {
           "x": {"field": "ct", "type": "nominal", "scale": {"type": "point", "domain": ["5:00 ᴀᴍ to|2:59 ᴘᴍ", "3:00 to|10:59 ᴘᴍ"], "padding": 0.5}, "axis": null},
           "y": {"field": "lo", "type": "quantitative", "scale": {"domain": [3, 7], "nice": false, "zero": false}, "axis": null},
           "y2": {"field": "hi"}
         }},
        {"mark": {"type": "tick", "color": "black", "thickness": 1.8, "size": 9},
         "encoding": {
           "x": {"field": "ct", "type": "nominal", "scale": {"type": "point", "domain": ["5:00 ᴀᴍ to|2:59 ᴘᴍ", "3:00 to|10:59 ᴘᴍ"], "padding": 0.5}, "axis": null},
           "y": {"field": "lo", "type": "quantitative", "scale": {"domain": [3, 7], "nice": false, "zero": false}, "axis": null}
         }},
        {"mark": {"type": "tick", "color": "black", "thickness": 1.8, "size": 9},
         "encoding": {
           "x": {"field": "ct", "type": "nominal", "scale": {"type": "point", "domain": ["5:00 ᴀᴍ to|2:59 ᴘᴍ", "3:00 to|10:59 ᴘᴍ"], "padding": 0.5}, "axis": null},
           "y": {"field": "hi", "type": "quantitative", "scale": {"domain": [3, 7], "nice": false, "zero": false}, "axis": null}
         }},
        {"transform": [{"filter": "datum.g === 'EDWR'"}],
         "mark": {"type": "point", "shape": "triangle-down", "filled": true, "fill": "white", "stroke": "black", "strokeWidth": 1.5, "size": 100, "opacity": 1},
         "encoding": {
           "x": {"field": "ct", "type": "nominal", "scale": {"type": "point", "domain": ["5:00 ᴀᴍ to|2:59 ᴘᴍ", "3:00 to|10:59 ᴘᴍ"], "padding": 0.5}, "axis": null},
           "y": {"field": "m", "type": "quantitative", "scale": {"domain": [3, 7], "nice": false, "zero": false}, "axis": null}
         }},
        {"transform": [{"filter": "datum.g === 'RCWR'"}],
         "mark": {"type": "point", "shape": "triangle-up", "filled": true, "fill": "black", "stroke": "black", "strokeWidth": 1, "size": 100, "opacity": 1},
         "encoding": {
           "x": {"field": "ct", "type": "nominal", "scale": {"type": "point", "domain": ["5:00 ᴀᴍ to|2:59 ᴘᴍ", "3:00 to|10:59 ᴘᴍ"], "padding": 0.5}, "axis": null},
           "y": {"field": "m", "type": "quantitative", "scale": {"domain": [3, 7], "nice": false, "zero": false}, "axis": null}
         }}
      ]
    },
    {
      "width": 278, "height": 183,
      "title": {"text": "H", "dx": -19, "offset": -11},
      "data": {"name": "H"},
      "resolve": {"axis": {"x": "independent", "y": "independent"}},
      "layer": [
        {"mark": {"type": "line", "color": "black", "strokeWidth": 1.8},
         "encoding": {
           "x": {"field": "ct", "type": "nominal", "scale": {"type": "point", "domain": ["3:00 to|10:59 ᴘᴍ", "11:00 ᴘᴍ to|5:59 ᴀᴍ", "6:00 ᴀᴍ to|2:59 ᴘᴍ"], "padding": 0.5}, "axis": {"title": "Clock Time", "domain": false, "tickSize": 5, "labelExpr": "split(datum.label, '|')", "labelFontSize": 14, "labelLineHeight": 20, "labelPadding": 10, "labelAngle": 0, "labelOverlap": false, "labelBaseline": "top", "titleFontSize": 16, "titlePadding": 14}},
           "y": {"field": "m", "type": "quantitative", "scale": {"domain": [3, 7], "nice": false, "zero": false}, "axis": {"title": null, "labels": false, "values": [3, 4, 5, 6, 7], "domain": false}},
           "detail": {"field": "g"},
           "order": {"value": null}
         }},
        {"mark": {"type": "rule", "color": "black", "strokeWidth": 1.8},
         "encoding": {
           "x": {"field": "ct", "type": "nominal", "scale": {"type": "point", "domain": ["3:00 to|10:59 ᴘᴍ", "11:00 ᴘᴍ to|5:59 ᴀᴍ", "6:00 ᴀᴍ to|2:59 ᴘᴍ"], "padding": 0.5}, "axis": null},
           "y": {"field": "lo", "type": "quantitative", "scale": {"domain": [3, 7], "nice": false, "zero": false}, "axis": null},
           "y2": {"field": "hi"}
         }},
        {"mark": {"type": "tick", "color": "black", "thickness": 1.8, "size": 9},
         "encoding": {
           "x": {"field": "ct", "type": "nominal", "scale": {"type": "point", "domain": ["3:00 to|10:59 ᴘᴍ", "11:00 ᴘᴍ to|5:59 ᴀᴍ", "6:00 ᴀᴍ to|2:59 ᴘᴍ"], "padding": 0.5}, "axis": null},
           "y": {"field": "lo", "type": "quantitative", "scale": {"domain": [3, 7], "nice": false, "zero": false}, "axis": null}
         }},
        {"mark": {"type": "tick", "color": "black", "thickness": 1.8, "size": 9},
         "encoding": {
           "x": {"field": "ct", "type": "nominal", "scale": {"type": "point", "domain": ["3:00 to|10:59 ᴘᴍ", "11:00 ᴘᴍ to|5:59 ᴀᴍ", "6:00 ᴀᴍ to|2:59 ᴘᴍ"], "padding": 0.5}, "axis": null},
           "y": {"field": "hi", "type": "quantitative", "scale": {"domain": [3, 7], "nice": false, "zero": false}, "axis": {"orient": "right", "offset": 19, "domain": true, "domainWidth": 1.5, "ticks": false, "tickSize": 0, "values": [7], "labelExpr": "'∧'", "labelFont": "DejaVu Sans", "labelFontWeight": "normal", "labelFontSize": 26, "labelAlign": "center", "labelBaseline": "top", "labelPadding": 0, "labelBound": false, "labelFlush": false, "labelOverlap": false, "title": "Worse", "titleAngle": 270, "titleAlign": "center", "titleBaseline": "middle", "titleX": 14, "titleY": 91.5, "titleFontSize": 18}}
         }},
        {"transform": [{"filter": "datum.g === 'EDWR'"}],
         "mark": {"type": "point", "shape": "triangle-down", "filled": true, "fill": "white", "stroke": "black", "strokeWidth": 1.5, "size": 100, "opacity": 1},
         "encoding": {
           "x": {"field": "ct", "type": "nominal", "scale": {"type": "point", "domain": ["3:00 to|10:59 ᴘᴍ", "11:00 ᴘᴍ to|5:59 ᴀᴍ", "6:00 ᴀᴍ to|2:59 ᴘᴍ"], "padding": 0.5}, "axis": null},
           "y": {"field": "m", "type": "quantitative", "scale": {"domain": [3, 7], "nice": false, "zero": false}, "axis": null}
         }},
        {"transform": [{"filter": "datum.g === 'RCWR'"}],
         "mark": {"type": "point", "shape": "triangle-up", "filled": true, "fill": "black", "stroke": "black", "strokeWidth": 1, "size": 100, "opacity": 1},
         "encoding": {
           "x": {"field": "ct", "type": "nominal", "scale": {"type": "point", "domain": ["3:00 to|10:59 ᴘᴍ", "11:00 ᴘᴍ to|5:59 ᴀᴍ", "6:00 ᴀᴍ to|2:59 ᴘᴍ"], "padding": 0.5}, "axis": null},
           "y": {"field": "m", "type": "quantitative", "scale": {"domain": [3, 7], "nice": false, "zero": false}, "axis": null}
         }},
        {"data": {"name": "Hstar"},
         "mark": {"type": "text", "text": "*", "fontSize": 22, "fontWeight": "bold", "baseline": "middle", "dy": 2, "color": "black"},
         "encoding": {
           "x": {"field": "ct", "type": "nominal", "scale": {"type": "point", "domain": ["3:00 to|10:59 ᴘᴍ", "11:00 ᴘᴍ to|5:59 ᴀᴍ", "6:00 ᴀᴍ to|2:59 ᴘᴍ"], "padding": 0.5}, "axis": null},
           "y": {"field": "s", "type": "quantitative", "scale": {"domain": [3, 7], "nice": false, "zero": false}, "axis": null}
         }},
        {"data": {"values": [{}]},
         "mark": {"type": "text", "text": "Shift*CT", "fontSize": 14, "fontWeight": "bold", "align": "left", "baseline": "alphabetic", "dx": -102.2, "dy": -3},
         "encoding": {
           "x": {"datum": "6:00 ᴀᴍ to|2:59 ᴘᴍ", "type": "nominal", "scale": {"type": "point", "domain": ["3:00 to|10:59 ᴘᴍ", "11:00 ᴘᴍ to|5:59 ᴀᴍ", "6:00 ᴀᴍ to|2:59 ᴘᴍ"], "padding": 0.5}, "axis": null},
           "y": {"datum": 3, "type": "quantitative", "scale": {"domain": [3, 7], "nice": false, "zero": false}, "axis": null}
         }},
        {"data": {"values": [{}]},
         "mark": {"type": "text", "text": "P", "fontSize": 14, "fontWeight": "bold", "fontStyle": "italic", "align": "left", "baseline": "alphabetic", "dx": -32.7, "dy": -3},
         "encoding": {
           "x": {"datum": "6:00 ᴀᴍ to|2:59 ᴘᴍ", "type": "nominal", "scale": {"type": "point", "domain": ["3:00 to|10:59 ᴘᴍ", "11:00 ᴘᴍ to|5:59 ᴀᴍ", "6:00 ᴀᴍ to|2:59 ᴘᴍ"], "padding": 0.5}, "axis": null},
           "y": {"datum": 3, "type": "quantitative", "scale": {"domain": [3, 7], "nice": false, "zero": false}, "axis": null}
         }},
        {"data": {"values": [{}]},
         "mark": {"type": "text", "text": "= .0001", "fontSize": 14, "fontWeight": "bold", "align": "right", "baseline": "alphabetic", "dx": 42.3, "dy": -3},
         "encoding": {
           "x": {"datum": "6:00 ᴀᴍ to|2:59 ᴘᴍ", "type": "nominal", "scale": {"type": "point", "domain": ["3:00 to|10:59 ᴘᴍ", "11:00 ᴘᴍ to|5:59 ᴀᴍ", "6:00 ᴀᴍ to|2:59 ᴘᴍ"], "padding": 0.5}, "axis": null},
           "y": {"datum": 3, "type": "quantitative", "scale": {"domain": [3, 7], "nice": false, "zero": false}, "axis": null}
         }}
      ]
    }
  ]
}
